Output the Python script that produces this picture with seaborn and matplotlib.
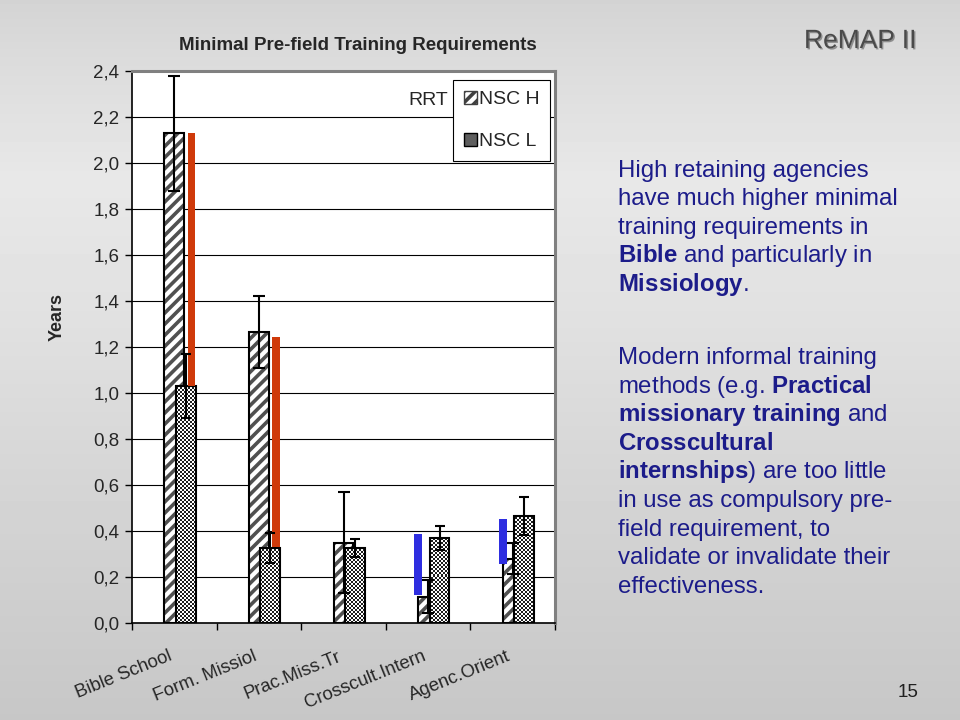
import numpy as np
import pandas as pd
import matplotlib
matplotlib.use("Agg")
import matplotlib.pyplot as plt
import seaborn as sns
from matplotlib.patches import Rectangle, Patch
from matplotlib.colors import ListedColormap
from matplotlib.ticker import FuncFormatter, FixedLocator
from matplotlib.transforms import ScaledTranslation
import matplotlib.patheffects as pe

# ---------------- data ----------------
categories = ["Bible School", "Form. Missiol", "Prac.Miss.Tr", "Crosscult.Intern", "Agenc.Orient"]
nsc_h = [2.13, 1.265, 0.35, 0.115, 0.28]
nsc_h_err = [0.25, 0.155, 0.22, 0.07, 0.068]
nsc_l = [1.03, 0.326, 0.326, 0.37, 0.465]
nsc_l_err = [0.14, 0.065, 0.04, 0.052, 0.083]
rrt_low = [1.03, 0.33, np.nan, 0.122, 0.257]
rrt_high = [2.13, 1.245, np.nan, 0.387, 0.452]
y_ticks = [0.0, 0.2, 0.4, 0.6, 0.8, 1.0, 1.2, 1.4, 1.6, 1.8, 2.0, 2.2, 2.4]

title = "Minimal Pre-field Training Requirements"
ylabel = "Years"
para1 = ["High retaining agencies",
         "have much higher minimal",
         "training requirements in",
         r"$\mathbf{Bible}$ and particularly in",
         r"$\mathbf{Missiology}$."]
para2 = ["Modern informal training",
         r"methods (e.g. $\mathbf{Practical}$",
         r"$\mathbf{missionary\ training}$ and",
         r"$\mathbf{Crosscultural}$",
         r"$\mathbf{internships}$) are too little",
         "in use as compulsory pre-",
         "field requirement, to",
         "validate or invalidate their",
         "effectiveness."]

# ---------------- style ----------------
sns.set_style("white")
plt.rcParams["font.family"] = ["Liberation Sans", "DejaVu Sans"]
plt.rcParams["mathtext.fontset"] = "custom"
plt.rcParams["mathtext.rm"] = "Liberation Sans"
plt.rcParams["mathtext.bf"] = "Liberation Sans:bold"
plt.rcParams["hatch.linewidth"] = 2.6

fig = plt.figure(figsize=(9.6, 7.2), dpi=100)

# slide background
bg = fig.add_axes([0, 0, 1, 1], zorder=-10)
grad = np.interp(np.linspace(0, 1, 720),
                 [0, 0.08, 0.25, 0.45, 0.65, 1.0],
                 [0.83, 0.86, 0.91, 0.88, 0.84, 0.78])
bg.imshow(np.tile(grad[:, None], (1, 8)), cmap="gray", vmin=0, vmax=1,
          aspect="auto", extent=[0, 1, 0, 1], origin="upper")
bg.axis("off")

AX_W, AX_H = 423, 552
ax = fig.add_axes([132 / 960, 97 / 720, AX_W / 960, AX_H / 720])
ax.set_facecolor("white")

df = pd.DataFrame({"category": categories, "NSC H": nsc_h, "NSC L": nsc_l})
BAR_W = 0.235
XLIM = (-0.5, len(categories) - 0.5)
YLIM = (0, 2.4)

# fine checker texture for the NSC L bars
cell = 2
checker = (np.indices((AX_H // cell, AX_W // cell)).sum(axis=0) % 2).astype(float)
checker_cmap = ListedColormap(["#1e1e1e", "#ffffff"])


def draw_series(col, offset, face, hatch_col, hatch, z, texture=False):
    before = set(ax.patches)
    sns.barplot(data=df, x="category", y=col, order=categories, width=BAR_W,
                ax=ax, color=face, saturation=1)
    new = [p for p in ax.patches if p not in before]
    for p in new:
        p.set_x(p.get_x() + offset)
        p.set_facecolor(face)
        p.set_hatch(hatch)
        p.set_edgecolor(hatch_col)
        p.set_linewidth(0)
        p.set_zorder(z)
        if hasattr(p, "set_hatch_linewidth"):
            p.set_hatch_linewidth(plt.rcParams["hatch.linewidth"])
        if texture:
            im = ax.imshow(checker, cmap=checker_cmap, vmin=0, vmax=1,
                           extent=[XLIM[0], XLIM[1], YLIM[0], YLIM[1]],
                           aspect="auto", interpolation="nearest", zorder=z + 0.02)
            im.set_clip_path(p)
        ax.add_patch(Rectangle((p.get_x(), p.get_y()), p.get_width(), p.get_height(),
                               fill=False, ec="black", lw=1.5, zorder=z + 0.05))


draw_series("NSC H", 0.0, "white", "#505050", "///", 2.0)
draw_series("NSC L", 0.135, "white", "white", None, 2.2, texture=True)

xpos = np.arange(len(categories))
rrt_colors = ["#cf3a0a" if h > l else "#2e2ee0" for h, l in zip(nsc_h, nsc_l)]
rrt_off = np.array([0.205 if h > l else -0.118 for h, l in zip(nsc_h, nsc_l)])
ax.bar(xpos + rrt_off, np.array(rrt_high) - np.array(rrt_low), bottom=rrt_low,
       width=0.09, color=rrt_colors, linewidth=0, zorder=3.5)

ax.errorbar(xpos + 0.0, nsc_h, yerr=nsc_h_err, fmt="none", ecolor="black",
            elinewidth=1.5, capsize=4.2, capthick=1.5, zorder=4)
ax.errorbar(xpos + 0.135, nsc_l, yerr=nsc_l_err, fmt="none", ecolor="black",
            elinewidth=1.5, capsize=3.5, capthick=1.5, zorder=4)

# axes
ax.set_xlim(*XLIM)
ax.set_ylim(*YLIM)
ax.set_yticks(y_ticks)
ax.yaxis.set_major_formatter(FuncFormatter(lambda v, p: f"{v:.1f}".replace(".", ",")))
ax.yaxis.grid(True, color="black", lw=0.8)
ax.xaxis.grid(False)
ax.set_axisbelow(True)
for s in ["left", "bottom"]:
    ax.spines[s].set_color("black")
    ax.spines[s].set_linewidth(1.2)
for s in ["top", "right"]:
    ax.spines[s].set_color("#808080")
    ax.spines[s].set_linewidth(2.2)
ax.tick_params(axis="y", direction="out", length=5, width=1, color="black",
               labelsize=13.5, pad=4, left=True)
ax.set_xticks(xpos)
ax.set_xticklabels(categories, rotation=22, ha="right", va="top",
                   rotation_mode="anchor", fontsize=13.3)
ax.xaxis.set_minor_locator(FixedLocator(np.arange(-0.5, len(categories), 1.0)))
ax.tick_params(axis="x", which="major", length=0, pad=18, bottom=True)
ax.tick_params(axis="x", which="minor", length=5, width=1, color="black", bottom=True)
for lab in ax.get_xticklabels():
    lab.set_transform(lab.get_transform() + ScaledTranslation(-6 / 100, 0, fig.dpi_scale_trans))
ax.set_xlabel("")
ax.set_ylabel(ylabel, fontsize=13, fontweight="bold")
ax.yaxis.set_label_coords(-0.158, 0.554)

# legend
handles = [Patch(facecolor="white", edgecolor="#404040", hatch="///", lw=1),
           Patch(facecolor="#5e5e5e", edgecolor="black", lw=1)]
leg = ax.legend(handles, ["NSC H", "NSC L"], loc="upper right",
                bbox_to_anchor=(0.988, 0.984), frameon=True, fancybox=False,
                edgecolor="black", framealpha=1, fontsize=14, handlelength=0.65,
                handleheight=0.65, handletextpad=0.1, labelspacing=1.3,
                borderpad=0.55, borderaxespad=0)
leg.get_frame().set_linewidth(0.8)
ax.text(0.747, 0.946, "RRT", transform=ax.transAxes, ha="right", va="center",
        fontsize=14)

# titles & slide text
fig.text(358 / 960, 1 - 46 / 720, title, ha="center", va="center", fontsize=13.5,
         fontweight="bold")
fig.text(804 / 960, 1 - 48 / 720, "ReMAP II", ha="left", va="baseline",
         fontsize=19, color="#4a4a4a",
         path_effects=[pe.withSimplePatchShadow(offset=(1, -1), shadow_rgbFace="black", alpha=0.35)])
fig.text(898 / 960, 1 - 697 / 720, "15", ha="left", va="baseline", fontsize=13.5,
         color="#202020")

tcol = "#1c1c8a"
for i, line in enumerate(para1):
    fig.text(618 / 960, 1 - (177 + 28.5 * i) / 720, line, ha="left", va="baseline",
             fontsize=17.3, color=tcol)
for i, line in enumerate(para2):
    fig.text(618 / 960, 1 - (364 + 28.6 * i) / 720, line, ha="left", va="baseline",
             fontsize=17.3, color=tcol)

fig.savefig("out.png", dpi=100)
